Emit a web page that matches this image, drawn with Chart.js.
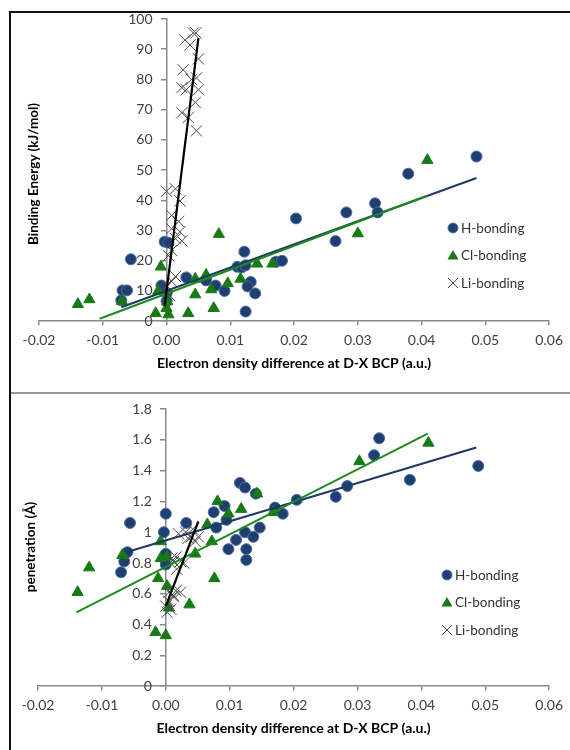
<!DOCTYPE html>
<html>
<head>
<meta charset="utf-8">
<script src="https://cdn.jsdelivr.net/npm/chart.js@4.4.1/dist/chart.umd.min.js"></script>
<style>
body { margin: 0; background: #fff; width: 570px; height: 750px; position: relative; overflow: hidden; font-family: Lato, sans-serif; }
.panel { position: absolute; left: 0; width: 570px; }
#topPanel { top: 0; height: 393px; }
#botPanel { top: 393px; height: 357px; }
canvas { position: absolute; left: 0; top: 0; }
.ytitle { position: absolute; font-weight: bold; font-size: 13.5px; color: #000; white-space: nowrap; transform: translate(-50%, -50%) rotate(-90deg); }
.legend { position: absolute; font-size: 13.5px; color: #333; }
.legend div { height: 27.5px; display: flex; align-items: center; }
.legend svg { margin-right: 1px; }
.line { position: absolute; }
</style>
</head>
<body>
<div class="panel" id="topPanel"><canvas id="chartTop" width="570" height="393"></canvas></div>
<div class="panel" id="botPanel"><canvas id="chartBot" width="570" height="357"></canvas></div>

<div class="ytitle" style="left:33px; top:174px;">Binding Energy (kJ/mol)</div>
<div class="ytitle" style="left:30px; top:547px;">penetration (Å)</div>

<div class="legend" style="left:446px; top:214px;" id="legTop"></div>
<div class="legend" style="left:440px; top:561px;" id="legBot"></div>

<div class="line" style="left:10px; top:11px; width:560px; height:2px; background:#111;"></div>
<div class="line" style="left:9px; top:11px; width:2px; height:739px; background:#111;"></div>
<div class="line" style="left:11px; top:392px; width:559px; height:2px; background:#9a9a9a;"></div>

<script>
// ---- top chart: binding energy ----
const hTopX = [-0.0071, -0.0069, -0.0062, -0.0056, -0.0003, 0.0003, -0.0008, 0.0000, 0.0000, 0.0031, 0.0062, 0.0077, 0.0091, 0.0111, 0.0118, 0.0122, 0.0124, 0.0132, 0.0127, 0.0139, 0.0124, 0.0172, 0.0181, 0.0203, 0.0265, 0.0282, 0.0327, 0.0331, 0.0379, 0.0486];
const hTopY = [6.9, 10.2, 10.2, 20.5, 26.3, 26.0, 11.8, 9.2, 6.6, 14.5, 13.5, 11.8, 10.0, 18.0, 17.8, 23.0, 18.5, 13.0, 11.5, 9.2, 3.2, 19.7, 20.0, 34.0, 26.5, 36.0, 39.0, 36.0, 48.8, 54.5];

const clTopX = [-0.0139, -0.0121, -0.0070, -0.0009, -0.0013, -0.0017, 0.0000, 0.0003, 0.0001, 0.0034, 0.0045, 0.0045, 0.0062, 0.0070, 0.0074, 0.0082, 0.0096, 0.0116, 0.0142, 0.0166, 0.0300, 0.0409];
const clTopY = [5.6, 7.2, 6.6, 18.0, 10.0, 2.6, 4.3, 2.2, 6.5, 2.6, 8.8, 14.0, 15.3, 10.5, 4.3, 28.8, 12.5, 14.0, 19.0, 19.0, 29.0, 53.3];

const liTopX = [0.0042, 0.0046, 0.0029, 0.0037, 0.0050, 0.0026, 0.0039, 0.0047, 0.0024, 0.0031, 0.0050, 0.0045, 0.0024, 0.0034, 0.0047,
                0.0014, 0.0000, 0.0021, 0.0008, 0.0019, 0.0008, 0.0021, 0.0014, 0.0024, 0.0008, 0.0003, 0.0000, 0.0008, -0.0002, 0.0014, 0.0005];
const liTopY = [95.4, 95.4, 93.0, 91.4, 86.8, 83.2, 80.0, 80.5, 77.3, 76.6, 76.6, 72.4, 69.0, 67.4, 63.0,
                43.8, 43.0, 39.8, 35.0, 33.0, 30.6, 29.6, 27.3, 26.6, 23.4, 21.7, 11.8, 13.2, 10.9, 14.8, 8.5];

// trend lines (end points)
const hFitTopX = [-0.0071, 0.0486];
const hFitTopY = [4.6, 47.4];
const clFitTopX = [-0.0105, 0.0409];
const clFitTopY = [0.8, 41.5];
const liFitTopX = [-0.0003, 0.0050];
const liFitTopY = [5.0, 93.7];

// ---- bottom chart: penetration ----
const hBotX = [0.0489, 0.0382, 0.0334, 0.0326, 0.0284, 0.0266, 0.0205, 0.0183, 0.0116, 0.0124, 0.0141, 0.0171, 0.0092, 0.0075, 0.0095, 0.0079, 0.0032, 0.0124, 0.0147, 0.0137, 0.0110, 0.0098, 0.0126, 0.0126, -0.0056, 0.0000, -0.0003, -0.0060, -0.0065, -0.0070, 0.0000, 0.0000];
const hBotY = [1.43, 1.34, 1.61, 1.50, 1.30, 1.23, 1.21, 1.12, 1.32, 1.29, 1.25, 1.16, 1.17, 1.13, 1.08, 1.03, 1.06, 1.00, 1.03, 0.97, 0.95, 0.89, 0.89, 0.82, 1.06, 1.12, 1.00, 0.87, 0.81, 0.74, 0.86, 0.79];

const clBotX = [-0.0138, -0.0120, -0.0068, -0.0016, -0.0012, -0.0008, -0.0008, 0.0000, 0.0002, 0.0002, 0.0005, 0.0037, 0.0046, 0.0065, 0.0072, 0.0076, 0.0081, 0.0098, 0.0118, 0.0143, 0.0168, 0.0303, 0.0411];
const clBotY = [0.61, 0.77, 0.85, 0.35, 0.70, 0.94, 0.83, 0.33, 0.84, 0.65, 0.51, 0.53, 0.86, 1.05, 0.94, 0.70, 1.20, 1.12, 1.15, 1.25, 1.13, 1.46, 1.58];

const liBotX = [0.0000, 0.0002, 0.0005, 0.0008, 0.0012, 0.0016, 0.0023, 0.0005, 0.0012, 0.0009, 0.0012, 0.0016, 0.0017, 0.0023, 0.0028, 0.0020, 0.0031, 0.0040, 0.0051, 0.0046, 0.0035, 0.0042];
const liBotY = [0.52, 0.48, 0.55, 0.50, 0.59, 0.62, 0.61, 0.61, 0.58, 0.83, 0.81, 0.84, 0.76, 0.81, 0.80, 0.99, 1.00, 0.97, 0.97, 0.94, 0.96, 1.02];

const hFitBotX = [-0.0062, 0.0486];
const hFitBotY = [0.87, 1.55];
const clFitBotX = [-0.0140, 0.0410];
const clFitBotY = [0.48, 1.64];
const liFitBotX = [0.0000, 0.0051];
const liFitBotY = [0.52, 1.07];

const xTicksMin = -0.02, xTicksMax = 0.06, xStep = 0.01;
const seriesNames = ["H-bonding", "Cl-bonding", "Li-bonding"];

const blueFill = "#203f70";
const blueEdge = "#4a70a6";
const greenFill = "#177a17";
const lineBlue = "#1f3864";
const lineGreen = "#1d8a1d";
const crossGray = "#4a4a4a";
const axisGray = "#8a8a8a";
const tickText = "#404040";

Chart.defaults.font.family = "Lato, sans-serif";

const pts = (xs, ys) => xs.map((x, i) => ({ x: x, y: ys[i] }));

// the y axis sits at x = 0, chart.js puts its labels right on the line, so pad them
const gap = "\u2002\u2002";

const fitLine = (xs, ys, color, w) => ({
    data: pts(xs, ys),
    showLine: true,
    borderColor: color,
    borderWidth: w,
    pointRadius: 0,
    fill: false,
    order: 0
});

const buildChart = (canvasId, d, yOpts, pad) => {
    const datasets = [
        fitLine(d.liFit[0], d.liFit[1], "#000", 2.2),
        fitLine(d.clFit[0], d.clFit[1], lineGreen, 2),
        fitLine(d.hFit[0], d.hFit[1], lineBlue, 2),
        {
            label: seriesNames[2], data: pts(d.li[0], d.li[1]),
            pointStyle: "crossRot", pointRadius: 8, borderColor: crossGray, borderWidth: 1, order: 1
        },
        {
            label: seriesNames[1], data: pts(d.cl[0], d.cl[1]),
            pointStyle: "triangle", pointRadius: 6.5, backgroundColor: greenFill, borderColor: greenFill, borderWidth: 1, order: 2
        },
        {
            label: seriesNames[0], data: pts(d.h[0], d.h[1]),
            pointStyle: "circle", pointRadius: 5.5, backgroundColor: blueFill, borderColor: blueEdge, borderWidth: 1, order: 3
        }
    ];

    return new Chart(document.getElementById(canvasId), {
        type: "scatter",
        data: { datasets },
        options: {
            responsive: false,
            animation: false,
            layout: { padding: pad },
            plugins: { legend: { display: false }, tooltip: { enabled: false } },
            scales: {
                x: {
                    type: "linear", min: xTicksMin, max: xTicksMax,
                    ticks: {
                        stepSize: xStep, color: tickText, font: { size: 14 }, padding: 7,
                        callback: (v) => (Math.abs(v) < 1e-9 ? "0.00" : v.toFixed(2))
                    },
                    grid: { drawOnChartArea: false, tickLength: 4, color: axisGray, lineWidth: 1.5 },
                    border: { color: axisGray, width: 1.5 },
                    title: {
                        display: true, text: "Electron density difference at D-X BCP (a.u.)",
                        color: "#000", font: { size: 14, weight: "bold", lineHeight: 1 }, padding: { top: 0, bottom: 0 }
                    }
                },
                y: {
                    type: "linear", position: { x: 0 }, min: yOpts.min, max: yOpts.max,
                    ticks: { stepSize: yOpts.step, color: tickText, font: { size: 14 }, callback: (v) => yOpts.fmt(v) + gap },
                    grid: { drawOnChartArea: false, tickLength: 5, color: axisGray, lineWidth: 1.5 },
                    border: { color: axisGray, width: 1.5 }
                }
            }
        }
    });
};

buildChart("chartTop", {
    h: [hTopX, hTopY], cl: [clTopX, clTopY], li: [liTopX, liTopY],
    hFit: [hFitTopX, hFitTopY], clFit: [clFitTopX, clFitTopY], liFit: [liFitTopX, liFitTopY]
}, { min: 0, max: 100, step: 10, fmt: (v) => String(v) }, { left: 39, right: 14, top: 19, bottom: 23 });

buildChart("chartBot", {
    h: [hBotX, hBotY], cl: [clBotX, clBotY], li: [liBotX, liBotY],
    hFit: [hFitBotX, hFitBotY], clFit: [clFitBotX, clFitBotY], liFit: [liFitBotX, liFitBotY]
}, { min: 0, max: 1.8, step: 0.2, fmt: (v) => String(Math.round(v * 10) / 10) }, { left: 38, right: 17, top: 16, bottom: 15 });

// html legends
const markerSvg = [
    '<svg width="14" height="14"><circle cx="7" cy="7" r="5" fill="' + blueFill + '" stroke="' + blueEdge + '"/></svg>',
    '<svg width="14" height="14"><polygon points="7,2 12.5,11.5 1.5,11.5" fill="' + greenFill + '"/></svg>',
    '<svg width="14" height="14"><path d="M2 2 L12 12 M12 2 L2 12" stroke="' + crossGray + '" stroke-width="1"/></svg>'
];
["legTop", "legBot"].forEach((id) => {
    document.getElementById(id).innerHTML = seriesNames
        .map((name, i) => "<div>" + markerSvg[i] + "<span>" + name + "</span></div>")
        .join("");
});
</script>
</body>
</html>
